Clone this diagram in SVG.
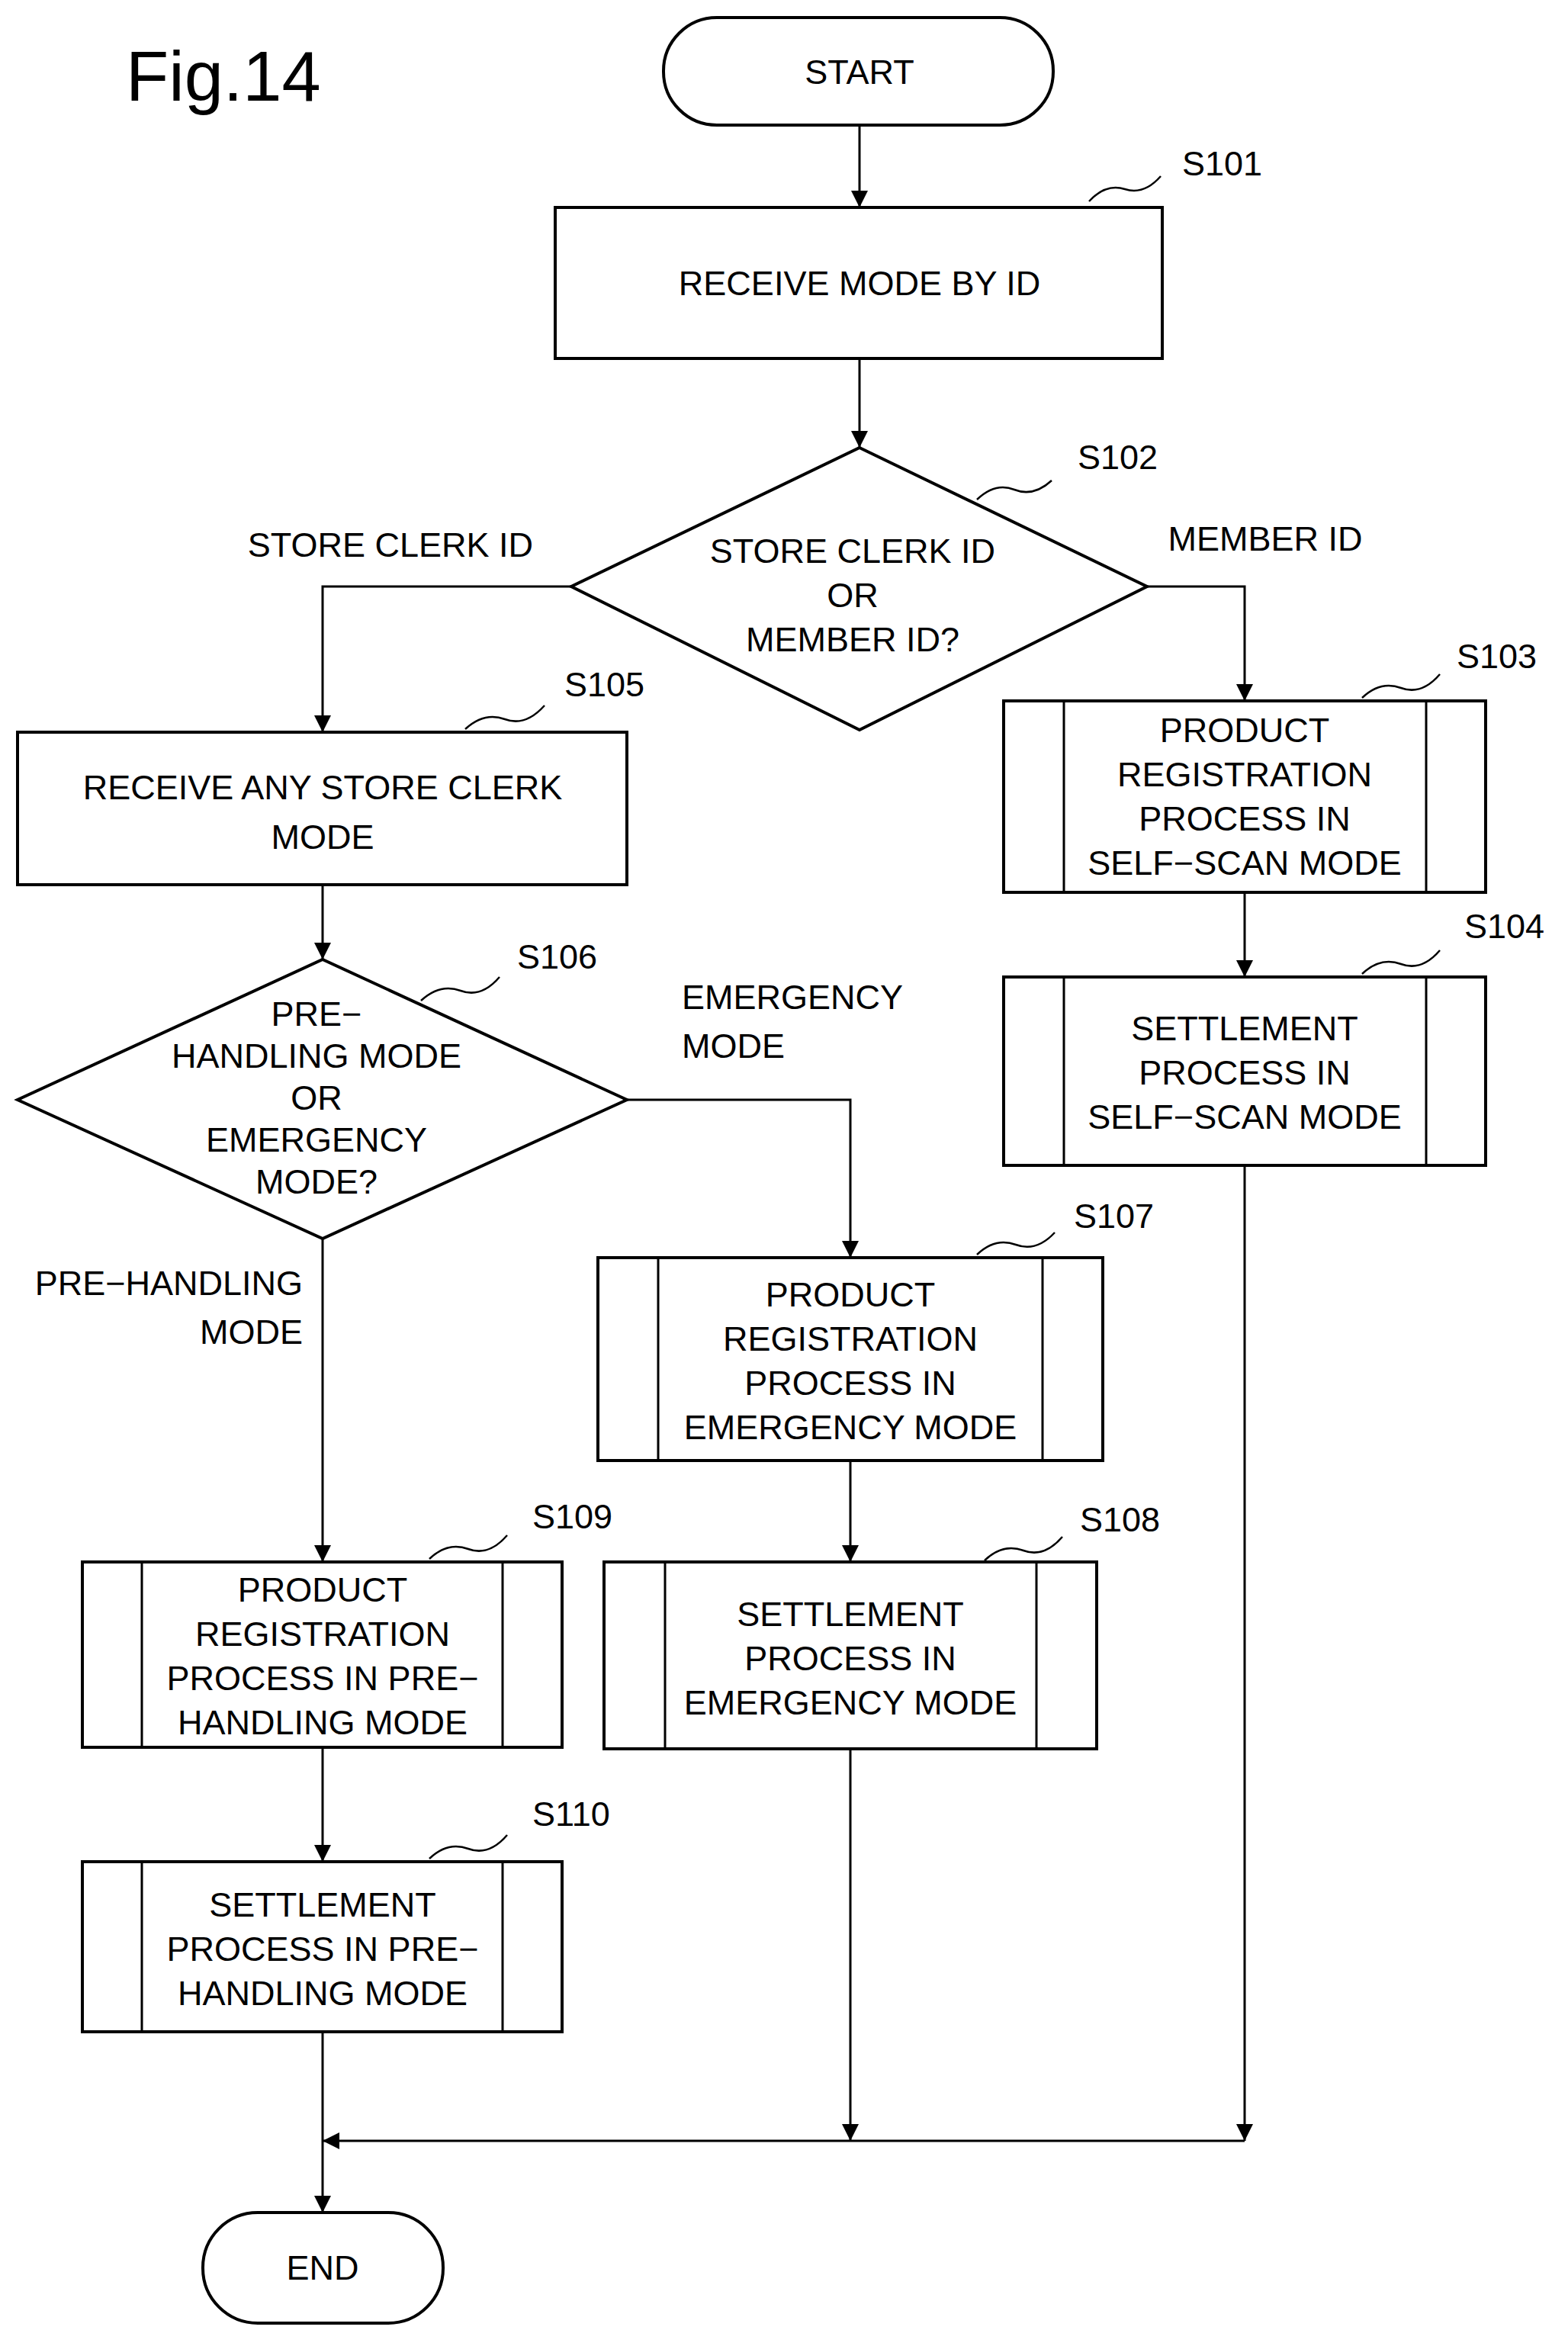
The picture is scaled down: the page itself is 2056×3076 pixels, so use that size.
<svg xmlns="http://www.w3.org/2000/svg" width="2056" height="3076" viewBox="0 0 2056 3076">
<style>
.b{fill:#fff;stroke:#000;stroke-width:4}
.l{fill:none;stroke:#000;stroke-width:3}
.s{fill:none;stroke:#000;stroke-width:2.5}
text{font-family:"Liberation Sans",Arial,sans-serif;font-size:45px;fill:#000}
.c{text-anchor:middle}
</style>
<defs><marker id="a" markerWidth="10" markerHeight="10" refX="9" refY="5" orient="auto" markerUnits="userSpaceOnUse" viewBox="0 0 10 10"><path d="M0,0L10,5L0,10z"/></marker>
<marker id="ar" viewBox="0 0 10 10" refX="10" refY="5" markerWidth="26" markerHeight="22" orient="auto" markerUnits="userSpaceOnUse"><path d="M0,0L10,5L0,10z"/></marker></defs>
<text x="165" y="132" style="font-size:92px">Fig.14</text>
<g id="connectors">
<path class="l" d="M1127,164V272" marker-end="url(#ar)"/>
<path class="l" d="M1127,470V587" marker-end="url(#ar)"/>
<path class="l" d="M749,769H423V960" marker-end="url(#ar)"/>
<path class="l" d="M1504,769H1632V919" marker-end="url(#ar)"/>
<path class="l" d="M1632,1170V1281" marker-end="url(#ar)"/>
<path class="l" d="M423,1160V1258" marker-end="url(#ar)"/>
<path class="l" d="M822,1442H1115V1649" marker-end="url(#ar)"/>
<path class="l" d="M423,1624V2048" marker-end="url(#ar)"/>
<path class="l" d="M1115,1915V2048" marker-end="url(#ar)"/>
<path class="l" d="M423,2291V2441" marker-end="url(#ar)"/>
<path class="l" d="M1632,1528V2807" marker-end="url(#ar)"/>
<path class="l" d="M1115,2293V2807" marker-end="url(#ar)"/>
<path class="l" d="M1632,2807H423" marker-end="url(#ar)"/>
<path class="l" d="M423,2664V2901" marker-end="url(#ar)"/>
<text x="512" y="730" class="c">STORE CLERK ID</text>
<text x="1659" y="722" class="c">MEMBER ID</text>
<text x="894" y="1323">EMERGENCY</text>
<text x="894" y="1387">MODE</text>
<text x="397" y="1698" text-anchor="end">PRE−HANDLING</text>
<text x="397" y="1762" text-anchor="end">MODE</text>
</g>
<g id="start"><rect class="b" x="870" y="23" width="511" height="141" rx="70"/><text x="1127" y="110" class="c">START</text></g>
<g id="s101"><rect class="b" x="728" y="272" width="796" height="198"/><text x="1127" y="387" class="c">RECEIVE MODE BY ID</text>
<path class="s" d="M1428,264Q1450,240 1475,248T1522,231"/><text x="1550" y="230">S101</text></g>
<g id="s102"><polygon class="b" points="1127,587 1504,769 1127,957 749,769"/>
<text x="1118" y="738" class="c">STORE CLERK ID</text><text x="1118" y="796" class="c">OR</text><text x="1118" y="854" class="c">MEMBER ID?</text>
<path class="s" d="M1281,655Q1305,632 1330,642T1379,630"/><text x="1413" y="615">S102</text></g>
<g id="s103"><rect class="b" x="1316" y="919" width="632" height="251"/><path class="l" d="M1395,919V1170M1870,919V1170"/>
<text x="1632" y="973" class="c">PRODUCT</text><text x="1632" y="1031" class="c">REGISTRATION</text><text x="1632" y="1089" class="c">PROCESS IN</text><text x="1632" y="1147" class="c">SELF−SCAN MODE</text>
<path class="s" d="M1786,915Q1810,892 1837,902T1888,884"/><text x="1910" y="876">S103</text></g>
<g id="s104"><rect class="b" x="1316" y="1281" width="632" height="247"/><path class="l" d="M1395,1281V1528M1870,1281V1528"/>
<text x="1632" y="1364" class="c">SETTLEMENT</text><text x="1632" y="1422" class="c">PROCESS IN</text><text x="1632" y="1480" class="c">SELF−SCAN MODE</text>
<path class="s" d="M1786,1277Q1810,1254 1837,1264T1888,1246"/><text x="1920" y="1230">S104</text></g>
<g id="s105"><rect class="b" x="23" y="960" width="799" height="200"/>
<text x="423" y="1048" class="c">RECEIVE ANY STORE CLERK</text><text x="423" y="1113" class="c">MODE</text>
<path class="s" d="M610,956Q635,933 662,943T714,925"/><text x="740" y="913">S105</text></g>
<g id="s106"><polygon class="b" points="423,1258 822,1442 423,1624 23,1442"/>
<text x="415" y="1345" class="c">PRE−</text><text x="415" y="1400" class="c">HANDLING MODE</text><text x="415" y="1455" class="c">OR</text><text x="415" y="1510" class="c">EMERGENCY</text><text x="415" y="1565" class="c">MODE?</text>
<path class="s" d="M552,1312Q577,1289 604,1299T655,1281"/><text x="678" y="1270">S106</text></g>
<g id="s107"><rect class="b" x="784" y="1649" width="662" height="266"/><path class="l" d="M863,1649V1915M1367,1649V1915"/>
<text x="1115" y="1713" class="c">PRODUCT</text><text x="1115" y="1771" class="c">REGISTRATION</text><text x="1115" y="1829" class="c">PROCESS IN</text><text x="1115" y="1887" class="c">EMERGENCY MODE</text>
<path class="s" d="M1281,1645Q1305,1622 1332,1632T1383,1616"/><text x="1408" y="1610">S107</text></g>
<g id="s108"><rect class="b" x="792" y="2048" width="646" height="245"/><path class="l" d="M872,2048V2293M1359,2048V2293"/>
<text x="1115" y="2132" class="c">SETTLEMENT</text><text x="1115" y="2190" class="c">PROCESS IN</text><text x="1115" y="2248" class="c">EMERGENCY MODE</text>
<path class="s" d="M1291,2046Q1315,2023 1342,2033T1393,2015"/><text x="1416" y="2008">S108</text></g>
<g id="s109"><rect class="b" x="108" y="2048" width="629" height="243"/><path class="l" d="M186,2048V2291M659,2048V2291"/>
<text x="423" y="2100" class="c">PRODUCT</text><text x="423" y="2158" class="c">REGISTRATION</text><text x="423" y="2216" class="c">PROCESS IN PRE−</text><text x="423" y="2274" class="c">HANDLING MODE</text>
<path class="s" d="M563,2044Q587,2021 614,2031T665,2013"/><text x="698" y="2004">S109</text></g>
<g id="s110"><rect class="b" x="108" y="2441" width="629" height="223"/><path class="l" d="M186,2441V2664M659,2441V2664"/>
<text x="423" y="2513" class="c">SETTLEMENT</text><text x="423" y="2571" class="c">PROCESS IN PRE−</text><text x="423" y="2629" class="c">HANDLING MODE</text>
<path class="s" d="M563,2437Q587,2414 614,2424T665,2406"/><text x="698" y="2394">S110</text></g>
<g id="end"><rect class="b" x="266" y="2901" width="315" height="145" rx="72"/><text x="423" y="2989" class="c">END</text></g>
</svg>
